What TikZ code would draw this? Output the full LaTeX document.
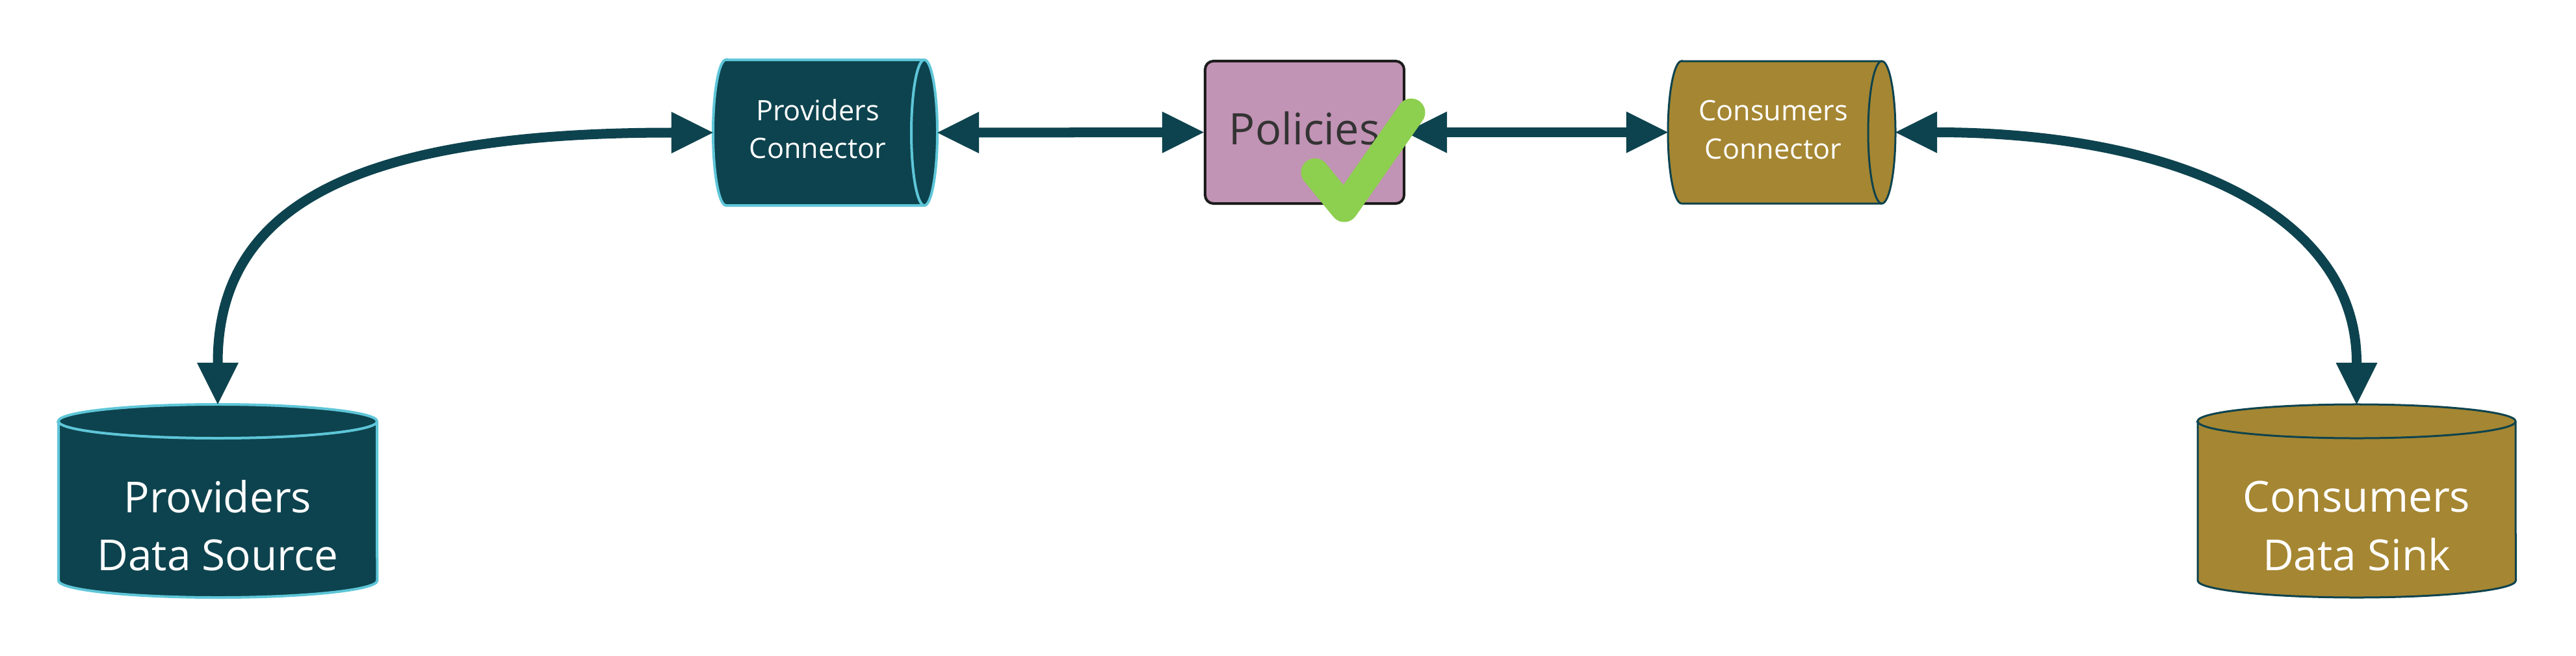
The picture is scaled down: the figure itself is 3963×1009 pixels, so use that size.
\documentclass[tikz,border=0pt]{standalone}
\usepackage{fontspec}
\setmainfont{Open Sans}
\usetikzlibrary{arrows.meta}
\definecolor{teal}{HTML}{0D434E}
\definecolor{cyanb}{HTML}{5EC6D8}
\definecolor{gold}{HTML}{A58632}
\definecolor{pink}{HTML}{C193B4}
\definecolor{checkgreen}{HTML}{8DCF4F}
\definecolor{poltext}{HTML}{333333}
\definecolor{polborder}{HTML}{1C1C1C}
\tikzset{
  anchorbox/.style={rectangle, draw=none, inner sep=0pt, outer sep=0pt},
  provshape/.style={fill=teal, draw=cyanb, line width=0.04cm},
  consshape/.style={fill=gold, draw=teal, line width=0.03cm},
  conntext/.style={text=white, inner sep=0pt, anchor=base, font=\fontsize{12.3}{15}\selectfont},
  storetext/.style={text=white, inner sep=0pt, anchor=base, font=\fontsize{18.7}{23}\selectfont},
  poltextstyle/.style={text=poltext, inner sep=0pt, anchor=base, font=\fontsize{19.0}{23}\selectfont},
  conn/.style={draw=teal, line width=0.15cm,
    {Triangle[length=0.64cm, width=0.64cm, line width=0pt]}-{Triangle[length=0.64cm, width=0.64cm, line width=0pt]}},
}
\begin{document}
\begin{tikzpicture}[x=0.01cm, y=-0.01cm]
\fill[white] (0,0) rectangle (3963,1009);
\useasboundingbox (0,0) rectangle (3963,1009);

% Providers Connector (horizontal cylinder)
\filldraw[provshape] (1117,92) -- (1422,92) arc[start angle=90, end angle=-90, x radius=0.2cm, y radius=1.12cm]
  -- (1117,316) arc[start angle=270, end angle=90, x radius=0.2cm, y radius=1.12cm] -- cycle;
\draw[cyanb, line width=0.04cm] (1422,92) arc[start angle=90, end angle=270, x radius=0.2cm, y radius=1.12cm];
\node[anchorbox, minimum width=3.45cm, minimum height=2.24cm] (pc) at (1269.5,204) {};
\node[conntext] (pct1) at (1258,185) {Providers};
\node[conntext] (pct2) at (1258,243.5) {Connector};

% Consumers Connector
\filldraw[consshape] (2587,94) -- (2895,94) arc[start angle=90, end angle=-90, x radius=0.21cm, y radius=1.095cm]
  -- (2587,313) arc[start angle=270, end angle=90, x radius=0.21cm, y radius=1.095cm] -- cycle;
\draw[teal, line width=0.03cm] (2895,94) arc[start angle=90, end angle=270, x radius=0.21cm, y radius=1.095cm];
\node[anchorbox, minimum width=3.50cm, minimum height=2.19cm] (cc) at (2741,203.5) {};
\node[conntext] (cct1) at (2728,185.5) {Consumers};
\node[conntext] (cct2) at (2728,244) {Connector};

% Policies
\node[rectangle, rounded corners=0.13cm, fill=pink, draw=polborder, line width=0.04cm,
      minimum width=3.06cm, minimum height=2.19cm, inner sep=0pt] (pol) at (2007,203.5) {};
\node[poltextstyle] (polt) at (2007,222) {Policies};

% Providers Data Source
\filldraw[provshape] (90,648) -- (90,893) arc[start angle=180, end angle=360, x radius=2.45cm, y radius=0.26cm]
  -- (580,648) arc[start angle=0, end angle=180, x radius=2.45cm, y radius=0.26cm] -- cycle;
\draw[cyanb, line width=0.04cm] (90,648) arc[start angle=180, end angle=360, x radius=2.45cm, y radius=0.26cm];
\node[anchorbox, minimum width=4.90cm, minimum height=2.97cm] (ds) at (335,770.5) {};
\node[storetext] (dst1) at (335,788) {Providers};
\node[storetext] (dst2) at (335,877) {Data Source};

% Consumers Data Sink
\filldraw[consshape] (3381,648) -- (3381,893) arc[start angle=180, end angle=360, x radius=2.445cm, y radius=0.26cm]
  -- (3870,648) arc[start angle=0, end angle=180, x radius=2.445cm, y radius=0.26cm] -- cycle;
\draw[teal, line width=0.03cm] (3381,648) arc[start angle=180, end angle=360, x radius=2.445cm, y radius=0.26cm];
\node[anchorbox, minimum width=4.89cm, minimum height=2.97cm] (dsk) at (3625.5,770.5) {};
\node[storetext] (dskt1) at (3625.5,787) {Consumers};
\node[storetext] (dskt2) at (3625.5,877) {Data Sink};

% Connectors
\draw[conn] (pc.west) -- ++(-64,0) .. controls (550,204) and (335,315) .. ([yshift=0.64cm]ds.north) -- (ds.north);
\draw[conn] (cc.east) -- ++(64,0) .. controls (3350,204) and (3625.5,330) .. ([yshift=0.64cm]dsk.north) -- (dsk.north);
\draw[conn] (pc.east) -- (pol.west);
\draw[conn] (pol.east) -- (cc.west);

% Check mark
\draw[checkgreen, line width=0.43cm, line cap=round, line join=round] (2023,265) -- (2068,320) -- (2171,173);
\end{tikzpicture}
\end{document}
